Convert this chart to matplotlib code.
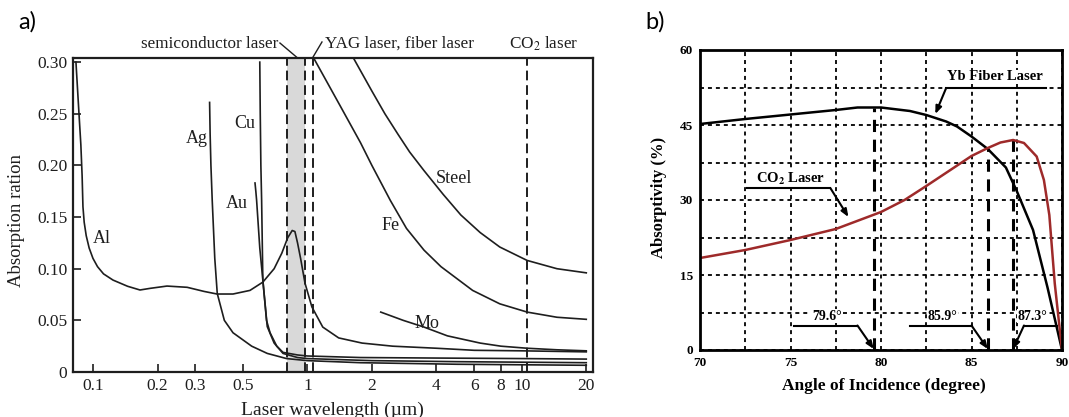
import matplotlib
matplotlib.use("Agg")
import matplotlib.pyplot as plt
from matplotlib.ticker import FixedLocator, FixedFormatter, NullLocator, MultipleLocator

plt.rcParams['font.family'] = ['Liberation Serif', 'DejaVu Serif']
plt.rcParams['mathtext.fontset'] = 'stix'

# ---------------- Panel a) data ----------------
al_wl = [0.0833, 0.0855, 0.0878, 0.089, 0.0898, 0.091, 0.093, 0.096, 0.100, 0.105, 0.112, 0.124, 0.145, 0.1657,
         0.185, 0.2214, 0.275, 0.33, 0.379, 0.45, 0.54, 0.62, 0.70, 0.76, 0.81, 0.85, 0.875, 0.90, 0.93,
         0.975, 1.05, 1.18, 1.4, 1.8, 2.5, 4.0, 6.0, 10.0, 20.0]
al_ab = [0.300, 0.260, 0.220, 0.190, 0.160, 0.145, 0.132, 0.120, 0.110, 0.102, 0.095, 0.089, 0.083, 0.0794,
         0.081, 0.0832, 0.082, 0.078, 0.0755, 0.0755, 0.079, 0.087, 0.100, 0.115, 0.130, 0.137, 0.136, 0.125, 0.110,
         0.086, 0.063, 0.0435, 0.033, 0.028, 0.025, 0.023, 0.021, 0.0205, 0.0195]

ag_wl = [0.350, 0.352, 0.355, 0.36, 0.37, 0.38, 0.41, 0.45, 0.55, 0.65, 0.8, 1.0, 1.77, 5.0, 10.0, 20.0]
ag_ab = [0.261, 0.23, 0.20, 0.166, 0.11, 0.076, 0.05, 0.038, 0.025, 0.018, 0.013, 0.011, 0.009, 0.0075, 0.007, 0.0065]

cu_wl = [0.600, 0.603, 0.607, 0.612, 0.62, 0.645, 0.67, 0.72, 0.77, 0.9, 1.0, 1.77, 4.0, 10.0, 20.0]
cu_ab = [0.300, 0.25, 0.20, 0.166, 0.089, 0.05, 0.038, 0.025, 0.019, 0.0165, 0.0155, 0.014, 0.0135, 0.013, 0.0125]

au_wl = [0.570, 0.575, 0.58, 0.60, 0.62, 0.65, 0.70, 0.77, 0.9, 1.0, 2.0, 5.0, 10.0, 20.0]
au_ab = [0.183, 0.175, 0.166, 0.12, 0.089, 0.044, 0.028, 0.018, 0.014, 0.013, 0.011, 0.010, 0.0095, 0.009]

mo_wl = [2.2, 2.8, 3.5, 4.5, 6.4, 8.0, 10.6, 14.6, 20.0]
mo_ab = [0.058, 0.050, 0.0435, 0.035, 0.028, 0.025, 0.023, 0.0215, 0.0205]

fe_wl = [1.07, 1.42, 1.77, 2.0, 2.44, 2.9, 3.5, 4.2, 5.9, 7.9, 10.6, 14.6, 20.0]
fe_ab = [0.304, 0.258, 0.222, 0.200, 0.166, 0.139, 0.118, 0.102, 0.079, 0.066, 0.058, 0.053, 0.051]

st_wl = [1.64, 2.0, 2.3, 2.65, 3.0, 3.5, 4.3, 5.2, 6.4, 7.9, 10.6, 14.6, 20.0]
st_ab = [0.304, 0.272, 0.250, 0.230, 0.213, 0.195, 0.172, 0.152, 0.135, 0.121, 0.108, 0.100, 0.096]

metal_names = ['Al', 'Ag', 'Cu', 'Au', 'Steel', 'Fe', 'Mo']
metal_label_x = [0.110, 0.306, 0.512, 0.470, 4.84, 2.45, 3.62]
metal_label_y = [0.1297, 0.2265, 0.241, 0.1635, 0.1877, 0.142, 0.0474]

semi_lo, semi_hi = 0.808, 0.98
yag_wl = 1.064
co2_wl = 10.6

xticks_a = [0.1, 0.2, 0.3, 0.5, 1, 2, 4, 6, 8, 10, 20]
xtick_labels_a = ['0.1', '0.2', '0.3', '0.5', '1', '2', '4', '6', '8', '10', '20']
yticks_a = [0, 0.05, 0.10, 0.15, 0.20, 0.25, 0.30]
ytick_labels_a = ['0', '0.05', '0.10', '0.15', '0.20', '0.25', '0.30']

# ---------------- Panel b) data ----------------
yb_ang = [70, 72.5, 75, 77.5, 78.7, 80, 81.6, 82.5, 83.6, 84.2, 85, 85.9, 86.9, 87.5, 88.4, 89.2, 90]
yb_abs = [45.2, 46.2, 47.1, 48.0, 48.5, 48.5, 47.8, 47.0, 45.7, 44.7, 42.7, 40.2, 36.5, 31.8, 24.0, 12.5, 0]

co2_ang = [70, 72.5, 75, 77.5, 80, 81.3, 82.5, 85, 85.9, 86.6, 87.3, 87.9, 88.6, 89.0, 89.3, 89.6, 90]
co2_abs = [18.4, 20.0, 22.0, 24.2, 27.6, 30.0, 32.8, 38.8, 40.4, 41.5, 42.0, 41.4, 38.7, 34.0, 27.0, 13.3, 0]

marked_angles = [79.6, 85.9, 87.3]
marked_tops = [48.5, 40.5, 42.0]
marked_labels = ['79.6°', '85.9°', '87.3°']

xticks_b = [70, 75, 80, 85, 90]
yticks_b = [0, 15, 30, 45, 60]

# ---------------- Figure ----------------
W, H = 1069, 417
fig = plt.figure(figsize=(W / 100, H / 100), dpi=100)

line_kw = dict(color='#1e1e1e', lw=1.2)

# ===== Panel a =====
ax1 = fig.add_axes([73 / W, 1 - 372 / H, 520 / W, 314 / H])
ax1.set_xscale('log')
ax1.set_xlim(0.0807, 21.5)
ax1.set_ylim(0, 0.304)

ax1.axvspan(semi_lo, semi_hi, color='#d9d9d9', lw=0, zorder=0)
for xv in [semi_lo, semi_hi, yag_wl, co2_wl]:
    ax1.axvline(xv, color='#1e1e1e', lw=1.4, ls=(0, (5, 2.5)), zorder=1)

for wl, ab in [(al_wl, al_ab), (ag_wl, ag_ab), (cu_wl, cu_ab), (au_wl, au_ab),
               (mo_wl, mo_ab), (fe_wl, fe_ab), (st_wl, st_ab)]:
    ax1.plot(wl, ab, zorder=3, solid_joinstyle='round', **line_kw)

for name, lx, ly in zip(metal_names, metal_label_x, metal_label_y):
    ax1.text(lx, ly, name, ha='center', va='center', fontsize=13, color='#1e1e1e')

ax1.xaxis.set_major_locator(FixedLocator(xticks_a))
ax1.xaxis.set_major_formatter(FixedFormatter(xtick_labels_a))
ax1.xaxis.set_minor_locator(NullLocator())
ax1.yaxis.set_major_locator(FixedLocator(yticks_a))
ax1.yaxis.set_major_formatter(FixedFormatter(ytick_labels_a))
ax1.tick_params(direction='in', length=6, width=1.2, labelsize=12.5, pad=4, colors='#1e1e1e')
for s in ax1.spines.values():
    s.set_linewidth(1.6)
    s.set_color('#1e1e1e')

ax1.set_xlabel('Laser wavelength (µm)', fontsize=14, color='#1e1e1e')
ax1.xaxis.set_label_coords(0.498, -0.093)
ax1.set_ylabel('Absorption ration', fontsize=13.5, color='#1e1e1e')
ax1.yaxis.set_label_coords(-0.092, 0.481)

# top annotations
ax1.text(0.730, 0.3175, 'semiconductor laser', ha='right', va='center', fontsize=12.3, color='#1e1e1e')
ax1.plot([0.745, 0.895], [0.3185, 0.3045], color='#1e1e1e', lw=1.0, clip_on=False)
ax1.text(1.21, 0.3175, 'YAG laser, fiber laser', ha='left', va='center', fontsize=12.3, color='#1e1e1e')
ax1.plot([1.17, 1.06], [0.3195, 0.3045], color='#1e1e1e', lw=1.0, clip_on=False)
ax1.text(12.6, 0.3175, 'CO$_2$ laser', ha='center', va='center', fontsize=12.3, color='#1e1e1e')

fig.text(27 / W, 1 - 22 / H, 'a)', fontsize=17, family=['Lato', 'DejaVu Sans'], ha='center', va='center')

# ===== Panel b =====
ax2 = fig.add_axes([700 / W, 1 - 350 / H, 362 / W, 300 / H])
ax2.set_xlim(70, 90)
ax2.set_ylim(0, 60)
ax2.xaxis.set_major_locator(FixedLocator(xticks_b))
ax2.yaxis.set_major_locator(FixedLocator(yticks_b))
ax2.xaxis.set_minor_locator(MultipleLocator(2.5))
ax2.yaxis.set_minor_locator(MultipleLocator(7.5))
ax2.grid(which='both', color='black', lw=1.3, ls=(0, (2.2, 2.2)), zorder=1)
ax2.tick_params(which='both', length=0, labelsize=9.5, pad=5)
for lab in ax2.get_xticklabels() + ax2.get_yticklabels():
    lab.set_fontweight('bold')
for s in ax2.spines.values():
    s.set_linewidth(2.0)
    s.set_zorder(5)

for xa, top in zip(marked_angles, marked_tops):
    ax2.plot([xa, xa], [0, top], color='black', lw=2.2, ls=(0, (4, 2.5)), zorder=2)

ax2.plot(yb_ang, yb_abs, color='black', lw=1.8, zorder=4)
ax2.plot(co2_ang, co2_abs, color='#9e2a2a', lw=1.8, zorder=4)

ax2.set_xlabel('Angle of Incidence (degree)', fontsize=12.5, fontweight='bold')
ax2.xaxis.set_label_coords(0.508, -0.095)
ax2.set_ylabel('Absorptivity (%)', fontsize=12, fontweight='bold')
ax2.yaxis.set_label_coords(-0.092, 0.51)

arrow_kw = dict(arrowstyle='-|>,head_length=0.45,head_width=0.18', color='black', lw=1.5,
                shrinkA=0, shrinkB=0)

# Yb Fiber Laser callout
ax2.text(86.3, 54.6, 'Yb Fiber Laser', ha='center', va='center', fontsize=10.5, fontweight='bold', zorder=6,
         bbox=dict(facecolor='white', edgecolor='none', pad=0.5))
ax2.plot([83.6, 89.1], [52.4, 52.4], color='black', lw=1.5, zorder=6)
ax2.annotate('', xy=(83.0, 47.2), xytext=(83.6, 52.4), arrowprops=arrow_kw, zorder=6)

# CO2 Laser callout
ax2.text(75.0, 34.2, r'CO$_\mathbf{2}$ Laser', ha='center', va='center', fontsize=10.5, fontweight='bold', zorder=6,
         bbox=dict(facecolor='white', edgecolor='none', pad=0.5))
ax2.plot([72.6, 77.2], [32.4, 32.4], color='black', lw=1.5, zorder=6)
ax2.annotate('', xy=(78.2, 26.6), xytext=(77.2, 32.4), arrowprops=arrow_kw, zorder=6)

# angle callouts
label_cx = [77.0, 83.4, 88.35]
line_x0 = [75.2, 81.6, 89.7]
line_x1 = [78.7, 85.0, 87.9]
for xa, lab, cx, x0, x1 in zip(marked_angles, marked_labels, label_cx, line_x0, line_x1):
    ax2.text(cx, 6.8, lab, ha='center', va='center', fontsize=10, fontweight='bold', zorder=6,
             bbox=dict(facecolor='white', edgecolor='none', pad=0.3))
    ax2.plot([x0, x1], [4.9, 4.9], color='black', lw=1.5, zorder=6)
    ax2.annotate('', xy=(xa, 0.2), xytext=(x1, 4.9), arrowprops=arrow_kw, zorder=6)

fig.text(655 / W, 1 - 22 / H, 'b)', fontsize=17, family=['Lato', 'DejaVu Sans'], ha='center', va='center')

fig.savefig('out.png', dpi=100)
